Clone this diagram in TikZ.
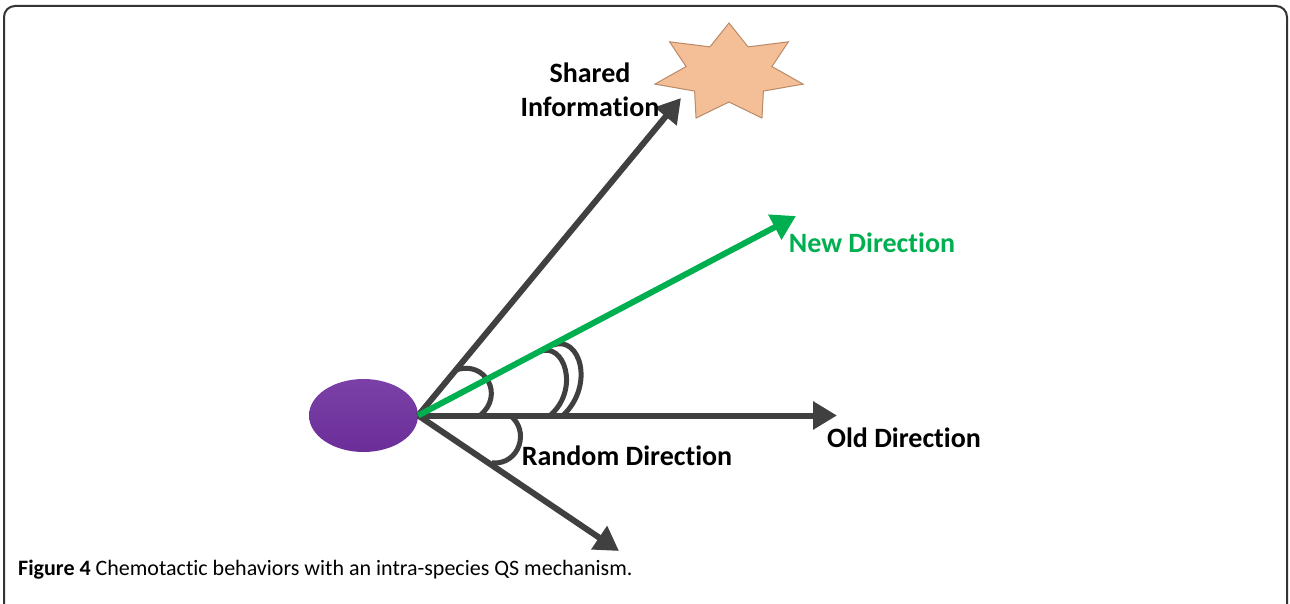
\documentclass[tikz,border=0pt]{standalone}
\usepackage{fontspec}
\setmainfont{Carlito}[Ligatures=NoCommon]
\usetikzlibrary{shapes.geometric,arrows.meta,calc}
\definecolor{dgray}{HTML}{404040}
\definecolor{ngreen}{HTML}{00B050}
\definecolor{cellpurple}{HTML}{7030A0}
\definecolor{starfill}{HTML}{F4BE96}
\definecolor{starline}{HTML}{B88A68}
\definecolor{frame}{HTML}{333333}
\tikzset{
  arr/.style={draw=dgray, line width=6pt, -{Triangle[length=24pt,width=27pt]}},
  garr/.style={draw=ngreen, line width=6pt, -{Triangle[length=24pt,width=27pt]}},
  anglemark/.style={draw=dgray, line width=5pt},
  lbl/.style={font=\fontsize{28}{34}\selectfont\bfseries, inner sep=0pt},
}
\begin{document}
\begin{tikzpicture}[x=1pt,y=1pt]
\useasboundingbox (0,0) rectangle (1290,603);
\clip (0,0) rectangle (1290,603);
% frame
\draw[frame, line width=2pt, rounded corners=11pt] (4,-20) -- (4,597) -- (1287,597) -- (1287,-20);
% star
\draw[starline, fill=starfill, line width=1pt]
  plot[samples at={0,...,13}] ({729+ (mod(\x,2)==0 ? 76 : 44)*cos(90+\x*360/14)}, {530+(mod(\x,2)==0 ? 50 : 29)*sin(90+\x*360/14)}) -- cycle;
% cell
\node[ellipse, minimum width=109pt, minimum height=73pt, inner sep=0pt,
      top color=cellpurple!92!white, bottom color=cellpurple!96!black, draw=none] (cell) at (363.5,187.5) {};
\coordinate (O) at (cell.east);
\coordinate (shtip) at (681,505);
\coordinate (newtip) at (796,387);
\coordinate (oldtip) at (837,187.5);
\coordinate (rndtip) at (619,52);
% angle marks
\draw[anglemark] (456,233) .. controls (485,243) and (505,208) .. (480,187.5);
\draw[anglemark] (553,258) .. controls (580,268) and (595,218) .. (563,187.5);
\draw[anglemark] (538,251) .. controls (565,263) and (580,213) .. (550,187.5);
\draw[anglemark] (510,187.5) .. controls (530,173) and (520,138) .. (492,140);
% arrows
\draw[arr] (O) -- (shtip);
\draw[arr] (O) -- (oldtip);
\draw[arr] (O) -- (rndtip);
\draw[garr] (O) -- (newtip);
% labels
\node[lbl, align=center] (shared) at (590,513) {Shared\\Information};
\node[lbl, text=ngreen] (newdir) at (872,360) {New Direction};
\node[lbl] (olddir) at (904,165) {Old Direction};
\node[lbl] (rnddir) at (627,147) {Random Direction};
\node[anchor=west, inner sep=0pt, font=\fontsize{22}{26}\selectfont] (cap) at (18,33)
  {\textbf{Figure 4} Chemotactic behaviors with an intra-species QS mechanism.};
\end{tikzpicture}
\end{document}
